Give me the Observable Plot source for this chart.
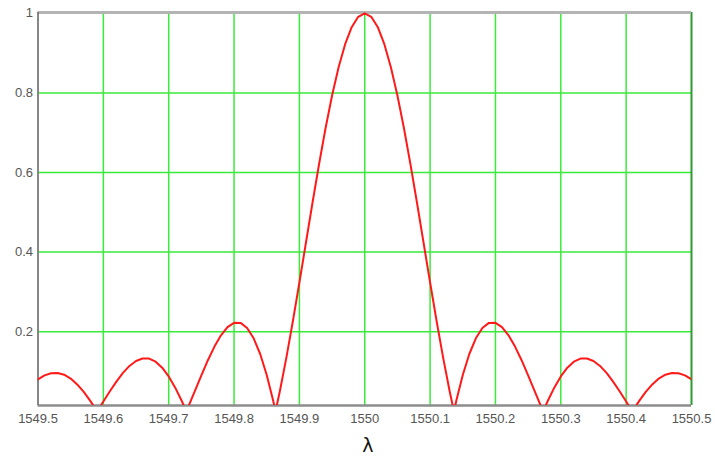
<!DOCTYPE html>
<html>
<head>
<meta charset="utf-8">
<script src="https://cdn.jsdelivr.net/npm/d3@7"></script>
<script src="https://cdn.jsdelivr.net/npm/@observablehq/plot@0.6"></script>
<style>
  html, body { margin: 0; padding: 0; background: #fff; }
</style>
</head>
<body>
<div id="chart"></div>
<script>
// Wavelength samples (nm)
const lambda = [
  1549.50, 1549.51, 1549.52, 1549.53, 1549.54, 1549.55, 1549.56, 1549.57, 1549.58, 1549.59, 1549.5905,
  1549.60, 1549.61, 1549.62, 1549.63, 1549.64, 1549.65, 1549.66, 1549.67, 1549.68, 1549.69,
  1549.70, 1549.71, 1549.72, 1549.727,
  1549.73, 1549.74, 1549.75, 1549.76, 1549.77, 1549.78, 1549.79, 1549.80, 1549.81, 1549.82,
  1549.83, 1549.84, 1549.85, 1549.86, 1549.8635,
  1549.87, 1549.88, 1549.89, 1549.90, 1549.91, 1549.92, 1549.93, 1549.94, 1549.95, 1549.96,
  1549.97, 1549.98, 1549.99, 1550.00,
  1550.01, 1550.02, 1550.03, 1550.04, 1550.05, 1550.06, 1550.07, 1550.08, 1550.09, 1550.10,
  1550.11, 1550.12, 1550.13, 1550.1365,
  1550.14, 1550.15, 1550.16, 1550.17, 1550.18, 1550.19, 1550.20, 1550.21, 1550.22, 1550.23,
  1550.24, 1550.25, 1550.26, 1550.27, 1550.273,
  1550.28, 1550.29, 1550.30, 1550.31, 1550.32, 1550.33, 1550.34, 1550.35, 1550.36, 1550.37,
  1550.38, 1550.39, 1550.40, 1550.4095,
  1550.41, 1550.42, 1550.43, 1550.44, 1550.45, 1550.46, 1550.47, 1550.48, 1550.49, 1550.50
];
// Normalised response
const response = [
  0.0803, 0.0903, 0.0958, 0.0964, 0.0919, 0.0822, 0.0676, 0.0487, 0.0262, 0.0013, 0,
  0.0245, 0.0503, 0.0747, 0.0964, 0.1140, 0.1265, 0.1328, 0.1324, 0.1247, 0.1096,
  0.0877, 0.0594, 0.0259, 0,
  0.0115, 0.0507, 0.0904, 0.1284, 0.1626, 0.1910, 0.2116, 0.2224, 0.2221, 0.2094,
  0.1834, 0.1440, 0.0912, 0.0257, 0,
  0.0498, 0.1342, 0.2263, 0.3236, 0.4235, 0.5234, 0.6202, 0.7112, 0.7935, 0.8646,
  0.9224, 0.9651, 0.9912, 1.0000,
  0.9912, 0.9651, 0.9224, 0.8646, 0.7935, 0.7112, 0.6202, 0.5234, 0.4235, 0.3236,
  0.2263, 0.1342, 0.0498, 0,
  0.0257, 0.0912, 0.1440, 0.1834, 0.2094, 0.2221, 0.2224, 0.2116, 0.1910, 0.1626,
  0.1284, 0.0904, 0.0507, 0.0115, 0,
  0.0259, 0.0594, 0.0877, 0.1096, 0.1247, 0.1324, 0.1328, 0.1265, 0.1140, 0.0964,
  0.0747, 0.0503, 0.0245, 0,
  0.0013, 0.0262, 0.0487, 0.0676, 0.0822, 0.0919, 0.0964, 0.0958, 0.0903, 0.0803
];

const xTicks = [1549.5, 1549.6, 1549.7, 1549.8, 1549.9, 1550, 1550.1, 1550.2, 1550.3, 1550.4, 1550.5];
const yTicks = [0.2, 0.4, 0.6, 0.8, 1];
const xDomain = [1549.5, 1550.5];
const yDomain = [0.0146, 1.002];
const axisLabel = "λ";

const data = lambda.map((l, i) => ({l, r: response[i]}));

const chart = Plot.plot({
  width: 715,
  height: 459,
  marginLeft: 37.5,
  marginRight: 24,
  marginTop: 12,
  marginBottom: 54,
  style: {fontFamily: "'Liberation Sans', Arial, sans-serif", fontSize: "13px", color: "#555", background: "#fff"},
  x: {domain: xDomain, ticks: xTicks, tickFormat: d => String(+d.toFixed(1)), tickSize: 0, tickPadding: 8, label: null},
  y: {domain: yDomain, ticks: yTicks, tickFormat: d => String(d), tickSize: 0, tickPadding: 5, label: null},
  marks: [
    Plot.ruleX(xTicks.slice(1, -1), {stroke: "#3aea3a", strokeWidth: 1.5}),
    Plot.ruleY(yTicks.slice(0, -1), {stroke: "#3aea3a", strokeWidth: 1.5}),
    Plot.ruleX([xDomain[1]], {stroke: "#2f9a2f", strokeWidth: 2}),
    Plot.ruleY([yDomain[1]], {stroke: "#b4b4b4", strokeWidth: 3}),
    Plot.ruleY([yDomain[0]], {stroke: "#8c8c8c", strokeWidth: 2.5}),
    Plot.ruleX([xDomain[0]], {stroke: "#7a7a7a", strokeWidth: 1.8}),
    Plot.line(data, {x: "l", y: "r", stroke: "#ff1a1a", strokeWidth: 2, clip: true}),
    Plot.text([axisLabel], {frameAnchor: "bottom", dy: 46, dx: 3, fontSize: 19, fill: "#111", fontFamily: "'DejaVu Sans', sans-serif"})
  ]
});

document.getElementById("chart").appendChild(chart);
</script>
</body>
</html>
